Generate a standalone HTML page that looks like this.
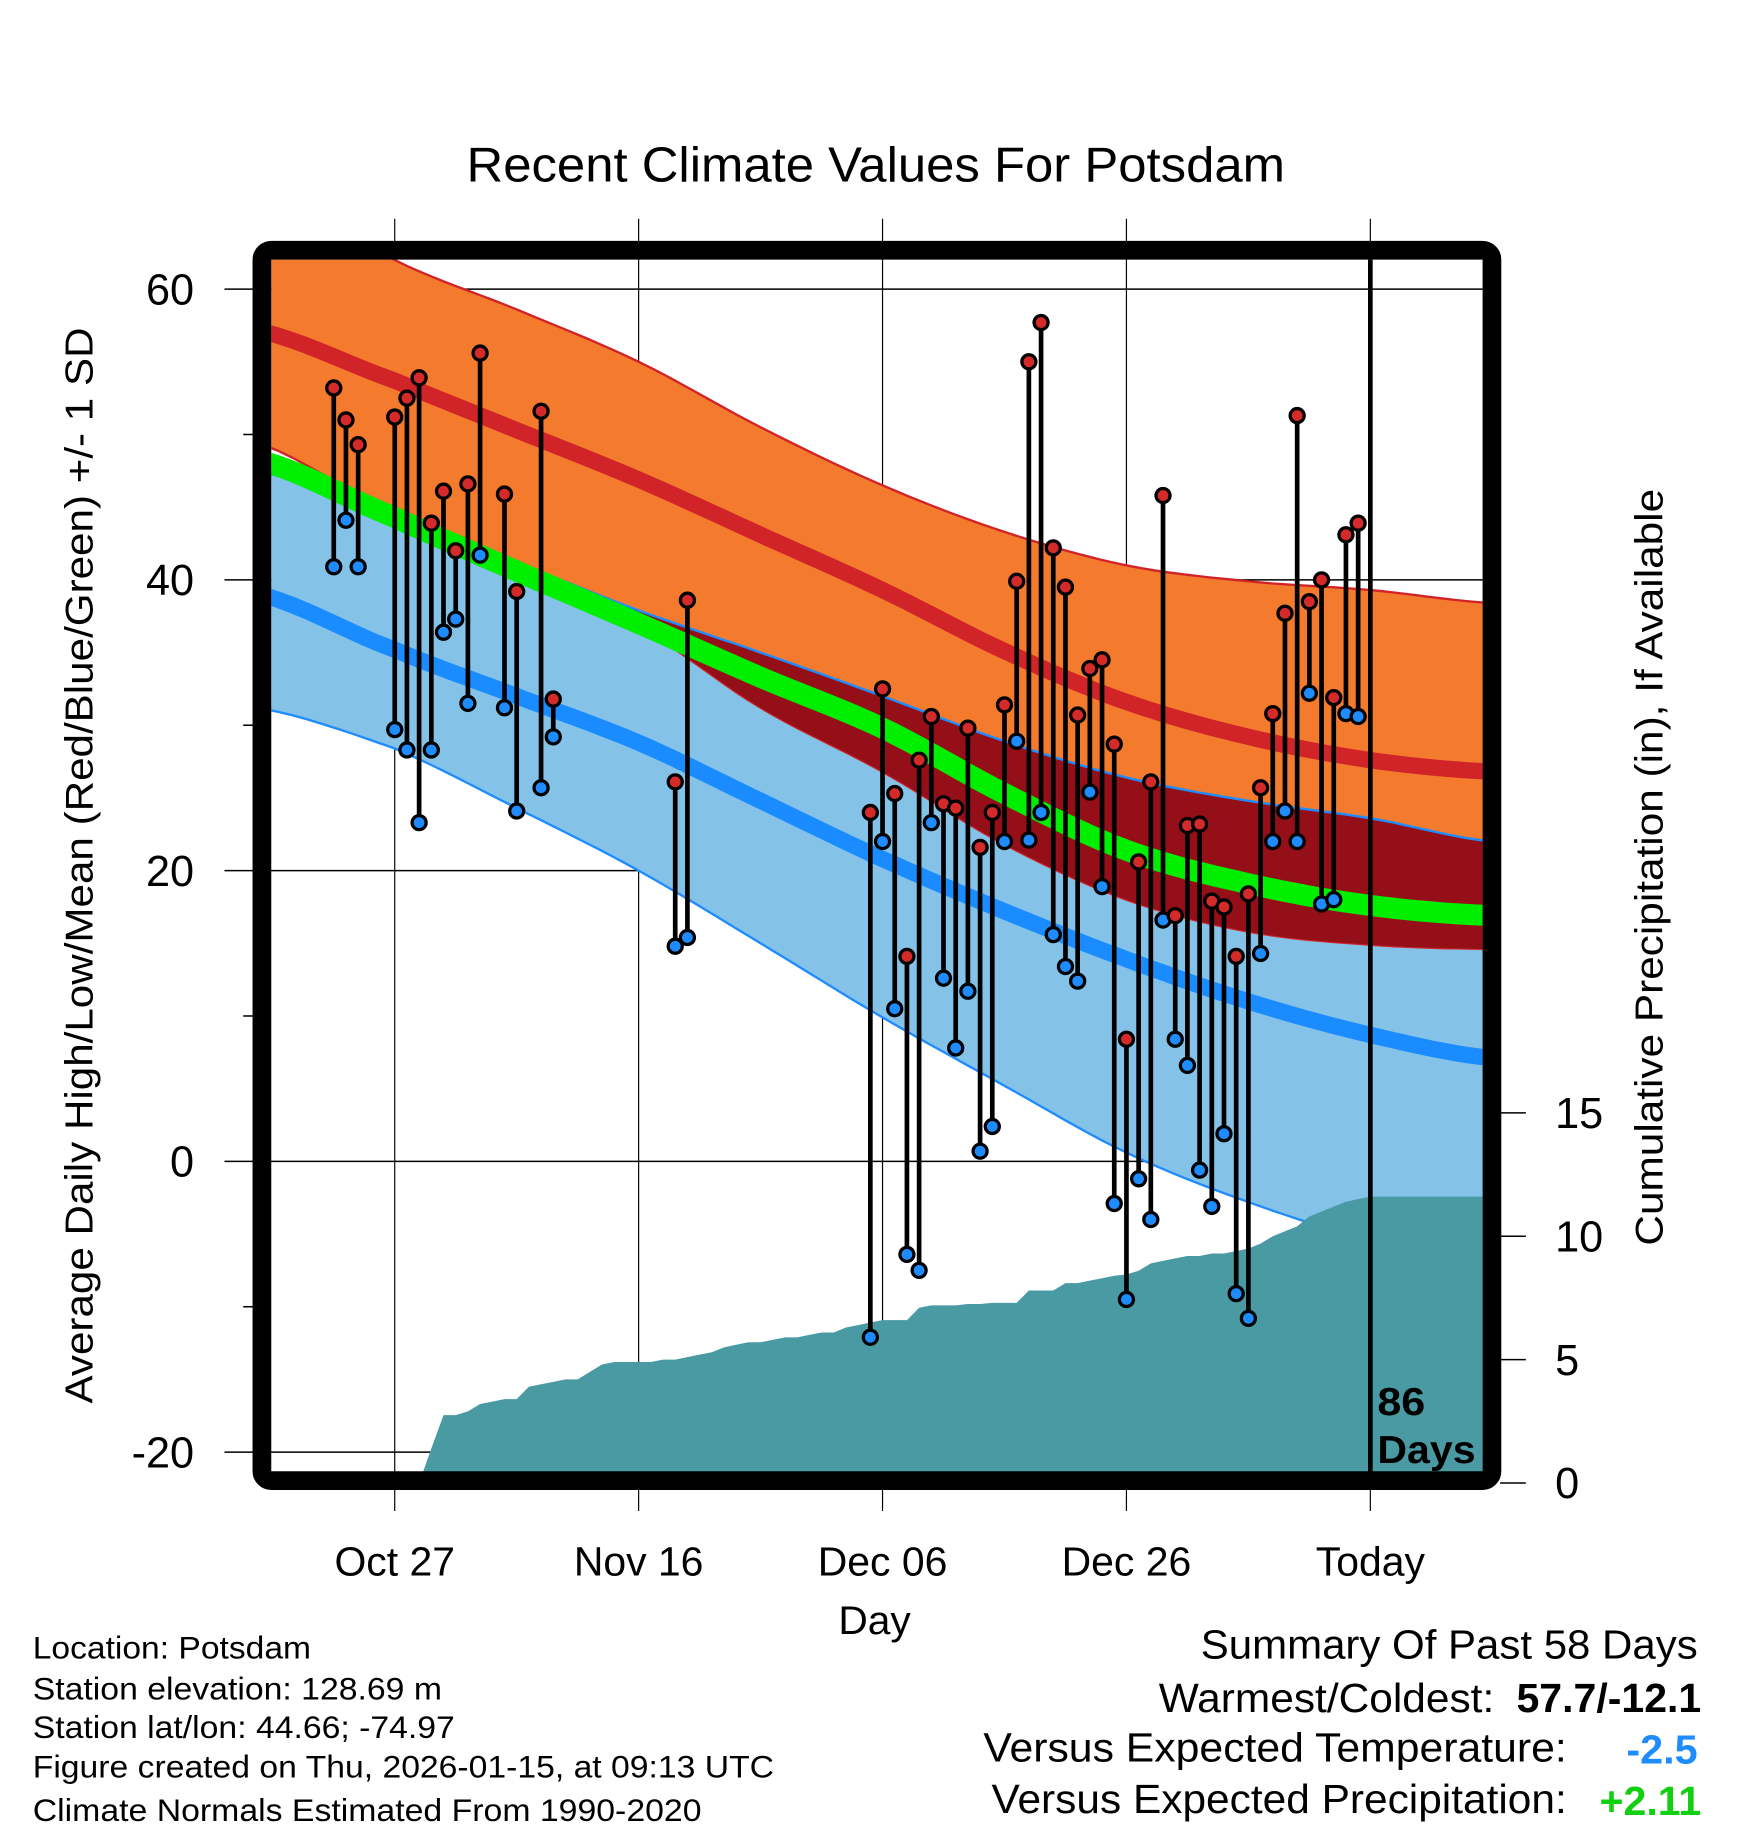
<!DOCTYPE html>
<html><head><meta charset="utf-8"><style>
html,body{margin:0;padding:0;background:#fff;}
svg{display:block;font-family:"Liberation Sans",Arial,sans-serif;}
</style></head><body>
<svg id="chart" width="1748" height="1828" viewBox="0 0 1495 1563" preserveAspectRatio="none" xmlns="http://www.w3.org/2000/svg">
<defs><clipPath id="plotclip"><rect x="232" y="222" width="1036" height="1038"/></clipPath></defs>
<rect width="1495" height="1563" fill="#fff"/>
<text x="399" y="155" font-size="42" textLength="700" lengthAdjust="spacingAndGlyphs">Recent Climate Values For Potsdam</text>
<g id="grid"></g>
<g id="bands" clip-path="url(#plotclip)"></g>
<g id="precip" clip-path="url(#plotclip)"></g>
<g id="obs"></g>
<line x1="1172" y1="222" x2="1172" y2="1260" stroke="#000" stroke-width="4"/>
<rect x="224" y="214" width="1052" height="1052" rx="8" fill="none" stroke="#000" stroke-width="16"/>
<g id="axes"></g>
<text x="1178" y="1210" font-size="33" font-weight="bold" textLength="41" lengthAdjust="spacingAndGlyphs">86</text>
<text x="1178" y="1251" font-size="33" font-weight="bold" textLength="84" lengthAdjust="spacingAndGlyphs">Days</text>
<text transform="translate(79,1200) rotate(-90)" font-size="33" textLength="920" lengthAdjust="spacingAndGlyphs">Average Daily High/Low/Mean (Red/Blue/Green) +/- 1 SD</text>
<text transform="translate(1422,1065) rotate(-90)" font-size="33" textLength="647" lengthAdjust="spacingAndGlyphs">Cumulative Precipitation (in), If Available</text>
<text x="717" y="1397" font-size="34" textLength="62" lengthAdjust="spacingAndGlyphs">Day</text>
<g font-size="27">
<text x="28" y="1418" textLength="238" lengthAdjust="spacingAndGlyphs">Location: Potsdam</text>
<text x="28" y="1453" textLength="350" lengthAdjust="spacingAndGlyphs">Station elevation: 128.69 m</text>
<text x="28" y="1486" textLength="361" lengthAdjust="spacingAndGlyphs">Station lat/lon: 44.66; -74.97</text>
<text x="28" y="1520" textLength="634" lengthAdjust="spacingAndGlyphs">Figure created on Thu, 2026-01-15, at 09:13 UTC</text>
<text x="28" y="1557" textLength="572" lengthAdjust="spacingAndGlyphs">Climate Normals Estimated From 1990-2020</text>
</g>
<g font-size="35">
<text x="1027" y="1418" textLength="425" lengthAdjust="spacingAndGlyphs">Summary Of Past 58 Days</text>
<text x="991" y="1464" textLength="287" lengthAdjust="spacingAndGlyphs">Warmest/Coldest:</text>
<text x="1297" y="1464" font-weight="bold" textLength="158" lengthAdjust="spacingAndGlyphs">57.7/-12.1</text>
<text x="841" y="1506" textLength="499" lengthAdjust="spacingAndGlyphs">Versus Expected Temperature:</text>
<text x="1391" y="1508" font-weight="bold" fill="#1e8cff" textLength="61" lengthAdjust="spacingAndGlyphs">-2.5</text>
<text x="848" y="1550" textLength="492" lengthAdjust="spacingAndGlyphs">Versus Expected Precipitation:</text>
<text x="1368" y="1552" font-weight="bold" fill="#10d010" textLength="87" lengthAdjust="spacingAndGlyphs">+2.11</text>
</g>
</svg>
<script>
const normDays = [-92,-80,-70,-60,-50,-40,-30,-20,-10,0,10];
const hiPlus  = [67,62,58.6,55,50.5,46.5,43.3,41,39.9,39.3,38.4];
const hiNorm  = [57.3,53.7,50.3,46.9,43.1,39.3,35.1,31.6,29.2,27.6,26.8];
const hiMinus = [49.6,44.5,40.6,36.8,31.2,26.8,21.8,18,15.8,14.9,14.6];
const loPlus  = [47.6,44.4,41.2,37.9,35.0,32.0,28.9,26.4,24.8,23.6,22.0];
const loNorm  = [39.2,35.2,32.0,28.8,24.8,20.8,17.2,13.9,11.0,8.7,7.1];
const loMinus = [31.3,28.4,24.3,20,15,9.9,5.2,0.6,-2.8,-5.4,-6.7];
const meanNorm= [48.4,44.3,40.6,37,33.3,29.8,25.3,21.4,19.1,17.6,16.9];
const obsDays = [-85,-84,-83,-80,-79,-78,-77,-76,-75,-74,-73,-71,-70,-68,-67,-57,-56,-41,-40,-39,-38,-37,-36,-35,-34,-33,-32,-31,-30,-29,-28,-27,-26,-25,-24,-23,-22,-21,-20,-19,-18,-17,-16,-15,-14,-13,-12,-11,-10,-9,-8,-7,-6,-5,-4,-3,-2,-1];
const obsHigh = [53.2,51.0,49.3,51.2,52.5,53.9,43.9,46.1,42.0,46.6,55.6,45.9,39.2,51.6,31.8,26.1,38.6,24.0,32.5,25.3,14.1,27.6,30.6,24.6,24.3,29.8,21.6,24.0,31.4,39.9,55.0,57.7,42.2,39.5,30.7,33.9,34.5,28.7,8.4,20.6,26.1,45.8,16.9,23.1,23.2,17.9,17.5,14.1,18.4,25.7,30.8,37.7,51.3,38.5,40.0,31.9,43.1,43.9];
const obsLow  = [40.9,44.1,40.9,29.7,28.3,23.3,28.3,36.4,37.3,31.5,41.7,31.2,24.1,25.7,29.2,14.8,15.4,-12.1,22.0,10.5,-6.4,-7.5,23.3,12.6,7.8,11.7,0.7,2.4,22.0,28.9,22.1,24.0,15.6,13.4,12.4,25.4,18.9,-2.9,-9.5,-1.2,-4.0,16.6,8.4,6.6,-0.6,-3.1,1.9,-9.1,-10.8,14.3,22.0,24.1,22.0,32.2,17.7,18.0,30.8,30.6];
const precipDays = [-78,-77,-76,-75,-74,-73,-72,-71,-70,-69,-68,-67,-66,-65,-64,-63,-62,-61,-60,-59,-58,-57,-56,-55,-54,-53,-52,-51,-50,-49,-48,-47,-46,-45,-44,-43,-42,-41,-40,-39,-38,-37,-36,-35,-34,-33,-32,-31,-30,-29,-28,-27,-26,-25,-24,-23,-22,-21,-20,-19,-18,-17,-16,-15,-14,-13,-12,-11,-10,-9,-8,-7,-6,-5,-4,-3,-2,-1,0,10];
const precipCum  = [0,1.4,2.75,2.75,2.9,3.2,3.3,3.4,3.4,3.9,4.0,4.1,4.2,4.2,4.5,4.8,4.9,4.9,4.9,4.9,5.0,5.0,5.1,5.2,5.3,5.5,5.6,5.7,5.7,5.8,5.9,5.9,6.0,6.1,6.1,6.3,6.4,6.5,6.6,6.6,6.6,7.1,7.2,7.2,7.2,7.25,7.25,7.3,7.3,7.3,7.8,7.8,7.8,8.1,8.1,8.2,8.3,8.4,8.45,8.6,8.9,9.0,9.1,9.2,9.2,9.3,9.3,9.4,9.5,9.7,10.0,10.2,10.4,10.8,11.0,11.2,11.4,11.5,11.6,11.6];
const yTicks = [60,40,20,0,-20];
const yMinor = [50,30,10,-10];
const xTickDays = [-80,-60,-40,-20,0];
const xTickLabels = ["Oct 27","Nov 16","Dec 06","Dec 26","Today"];
const pTicks = [0,5,10,15];

const NS="http://www.w3.org/2000/svg";
const X = d => 1172 + d*10.43;
const Y = t => 993 - t*12.43;
const P = p => 1268 - p*21.1;
function mk(tag, parent, attrs){const e=document.createElementNS(NS,tag);for(const k in attrs)e.setAttribute(k,attrs[k]);parent.appendChild(e);return e;}
// smooth sampling (Catmull-Rom) of a normals series
function smooth(vals){
  const out=[];
  const n=normDays.length;
  for(let i=0;i<n-1;i++){
    const p0=vals[Math.max(i-1,0)],p1=vals[i],p2=vals[i+1],p3=vals[Math.min(i+2,n-1)];
    const d0=normDays[i],d1=normDays[i+1];
    for(let s=0;s<10;s++){
      const t=s/10;
      const v=0.5*((2*p1)+(-p0+p2)*t+(2*p0-5*p1+4*p2-p3)*t*t+(-p0+3*p1-3*p2+p3)*t*t*t);
      out.push([d0+(d1-d0)*t,v]);
    }
  }
  out.push([normDays[n-1],vals[n-1]]);
  return out;
}
function pts(vals){return smooth(vals).map(p=>X(p[0]).toFixed(1)+","+Y(p[1]).toFixed(1));}
function band(top, bot){return pts(top).concat(pts(bot).reverse()).join(" ");}

const grid=document.getElementById('grid');
yTicks.forEach(t=>{
  const l=mk('line',grid,{x1:192,x2:1268,y1:Y(t),y2:Y(t),stroke:'#000','stroke-width':1.3});
  
  
});
xTickDays.forEach(d=>{
  const l=mk('line',grid,{x1:X(d),x2:X(d),y1:187,y2:1292,stroke:'#000','stroke-width':1});
  
  
});

const bands=document.getElementById('bands');
let e;
e=mk('polygon',bands,{points:band(loPlus,loMinus),fill:'#84c2e8',stroke:'#1e8cff','stroke-width':2});


e=mk('polygon',bands,{points:band(hiPlus,hiMinus),fill:'#f47a2d',stroke:'#d02428','stroke-width':2});


const ovTop=loPlus.map((v,i)=>Math.min(v,hiPlus[i]));
const ovBot=hiMinus.map((v,i)=>Math.min(v,loPlus[i]));
e=mk('polygon',bands,{points:band(ovTop,ovBot),fill:'#950f18'});


e=mk('polyline',bands,{points:pts(loPlus).join(" "),fill:'none',stroke:'#1e8cff','stroke-width':2});


e=mk('polyline',bands,{points:pts(meanNorm).join(" "),fill:'none',stroke:'#00ee00','stroke-width':18});


e=mk('polyline',bands,{points:pts(hiNorm).join(" "),fill:'none',stroke:'#d02428','stroke-width':14});


e=mk('polyline',bands,{points:pts(loNorm).join(" "),fill:'none',stroke:'#1a8cff','stroke-width':14});



const pr=document.getElementById('precip');
let pp=precipDays.map((d,i)=>X(d).toFixed(1)+","+P(precipCum[i]).toFixed(1));
pp.push(X(precipDays[precipDays.length-1]).toFixed(1)+",1268");
pp.push(X(precipDays[0]).toFixed(1)+",1268");
e=mk('polygon',pr,{points:pp.join(" "),fill:'#4a9aa3'});



const obs=document.getElementById('obs');
obsDays.forEach((d,i)=>{
  const g=mk('g',obs,{});
  
  
  const s=mk('line',g,{x1:X(d),x2:X(d),y1:Y(obsHigh[i]),y2:Y(obsLow[i]),stroke:'#000','stroke-width':4});
  
  
  const h=mk('circle',g,{cx:X(d),cy:Y(obsHigh[i]),r:6,fill:'#d42a2a',stroke:'#000','stroke-width':2.8});
  
  
  const lo=mk('circle',g,{cx:X(d),cy:Y(obsLow[i]),r:6,fill:'#1e8cff',stroke:'#000','stroke-width':2.8});
  
  
});

const ax=document.getElementById('axes');
yTicks.forEach(t=>{
  const tx=mk('text',ax,{x:166,y:Y(t)+13,'font-size':37,'text-anchor':'end'});
  tx.textContent=t;
  
  
});
yMinor.forEach(t=>{
  const l=mk('line',ax,{x1:208,x2:218,y1:Y(t),y2:Y(t),stroke:'#000','stroke-width':1.3});
  
  
});
xTickDays.forEach((d,i)=>{
  const tx=mk('text',ax,{x:X(d),y:1347,'font-size':35,'text-anchor':'middle'});
  tx.textContent=xTickLabels[i];
  
  
});
pTicks.forEach(p=>{
  const l=mk('line',ax,{x1:1283,x2:1305,y1:P(p),y2:P(p),stroke:'#000','stroke-width':1.3});
  
  
  const tx=mk('text',ax,{x:1330,y:P(p)+13,'font-size':37});
  tx.textContent=p;
  
  
});
</script>
</body></html>
